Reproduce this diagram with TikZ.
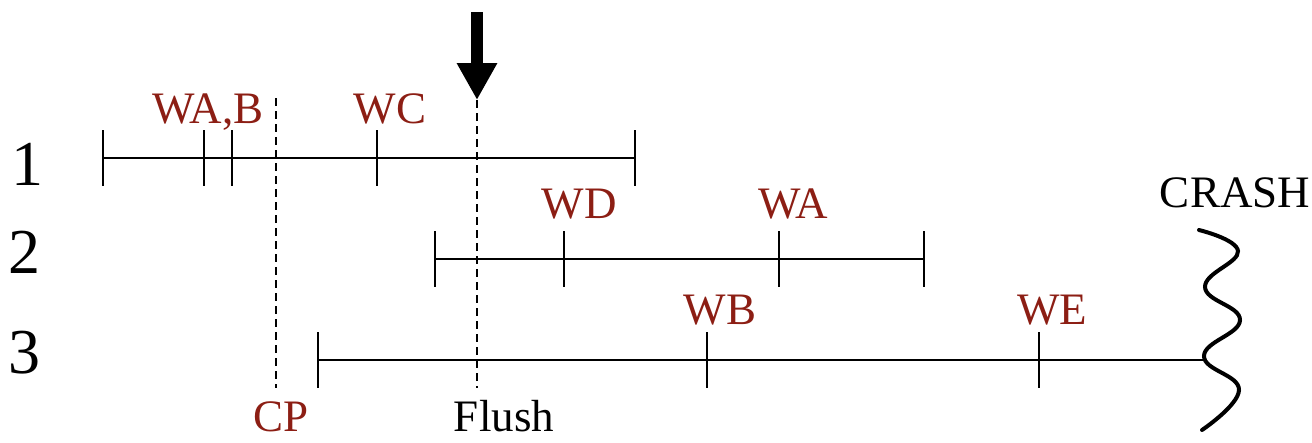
\documentclass[tikz,border=0pt]{standalone}
\usepackage{fontspec}
\setmainfont{Liberation Serif}
\usetikzlibrary{arrows.meta}
\definecolor{wred}{RGB}{140,30,20}
\begin{document}
\begin{tikzpicture}[x=1pt,y=-1pt,
  tline/.style={line width=2pt},
  tickmark/.style={line width=2pt},
  vdash/.style={line width=1.8pt, dash pattern=on 8pt off 5pt},
  wlabel/.style={text=wred, font=\fontsize{45}{50}\selectfont, anchor=base, inner sep=0pt},
  blabel/.style={text=black, font=\fontsize{45}{50}\selectfont, anchor=base, inner sep=0pt},
  digit/.style={text=black, font=\fontsize{64}{70}\selectfont, anchor=base, inner sep=0pt},
  wave/.style={line width=4pt, line cap=round},
  bigarrow/.style={line width=12pt, -{Triangle[width=38pt,length=37pt]}}
]
\useasboundingbox (0,0) rectangle (1312,442);

% row numbers
\node[digit] (n1) at (27,185) {1};
\node[digit] (n2) at (25,273) {2};
\node[digit] (n3) at (25,373) {3};

% timeline 1
\coordinate (l1s) at (103,158);
\coordinate (l1e) at (635,158);
\coordinate (t1a) at (204,158);
\coordinate (t1b) at (232,158);
\coordinate (t1c) at (377,158);
\draw[tline] (l1s) -- (l1e);
\foreach \p in {l1s,l1e,t1a,t1b,t1c}
  \draw[tickmark] ([yshift=28pt]\p) -- ([yshift=-28pt]\p);

% timeline 2
\coordinate (l2s) at (435,259);
\coordinate (l2e) at (924,259);
\coordinate (t2d) at (564,259);
\coordinate (t2a) at (779,259);
\draw[tline] (l2s) -- (l2e);
\foreach \p in {l2s,l2e,t2d,t2a}
  \draw[tickmark] ([yshift=28pt]\p) -- ([yshift=-28pt]\p);

% timeline 3
\coordinate (l3s) at (318,360);
\coordinate (l3e) at (1206,360);
\coordinate (t3b) at (707,360);
\coordinate (t3e) at (1039,360);
\draw[tline] (l3s) -- (l3e);
\foreach \p in {l3s,t3b,t3e}
  \draw[tickmark] ([yshift=28pt]\p) -- ([yshift=-28pt]\p);

% write labels
\node[wlabel] (wab) at (208,123) {WA,B};
\node[wlabel] (wc) at (390,123) {WC};
\node[wlabel] (wd) at (579,218) {WD};
\node[wlabel] (wa) at (793,218) {WA};
\node[wlabel] (wb) at (720,324) {WB};
\node[wlabel] (we) at (1052,324) {WE};

% checkpoint and flush
\coordinate (cpt) at (276,98);
\coordinate (cpb) at (276,388);
\draw[vdash] (cpt) -- (cpb);
\node[wlabel] (cp) at (281,431) {CP};

\coordinate (ftop) at (477,12);
\coordinate (ftip) at (477,100);
\coordinate (fb) at (477,388);
\draw[vdash] (ftip) -- (fb);
\draw[bigarrow] (ftop) -- (ftip);
\node[blabel] (flush) at (504,431) {Flush};

% crash
\node[blabel] (crash) at (1235,207) {CRASH};
\draw[wave] plot[smooth, tension=0.75] coordinates {(1199,230) (1238,251) (1205,287) (1240,320) (1204,356) (1239,390) (1202,430)};
\end{tikzpicture}
\end{document}
